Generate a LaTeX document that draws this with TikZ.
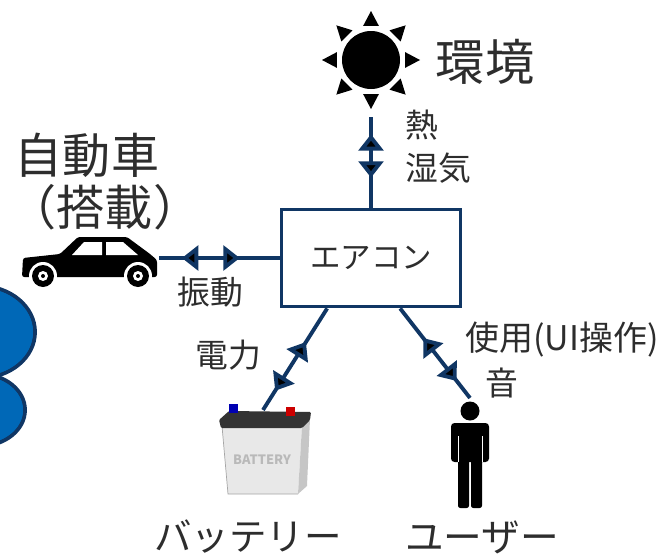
\documentclass[tikz,border=0pt]{standalone}
\usepackage{fontspec}
\setmainfont{Noto Sans CJK JP}
\usepackage{xcolor}
\usepackage{tikz}
\usetikzlibrary{arrows.meta,decorations.markings}

\definecolor{acnavy}{RGB}{16,54,100}
\definecolor{blobblue}{RGB}{0,104,183}
\definecolor{ink}{RGB}{45,45,45}

\tikzset{
  flowtip/.tip={Triangle[length=14pt,width=21pt,fill=black]},
  link/.style={acnavy, line width=3.3pt, postaction={decorate},
    decoration={markings,
      mark=at position 0.19 with {\arrowreversed{flowtip}},
      mark=at position 0.67 with {\arrow{flowtip}}}},
  biglabel/.style={text=ink, inner sep=0pt, font=\fontsize{42pt}{46pt}\selectfont},
  namelabel/.style={text=ink, inner sep=0pt, font=\fontsize{32pt}{36pt}\selectfont},
  flowlabel/.style={text=ink, inner sep=0pt, font=\fontsize{28pt}{32pt}\selectfont},
}

\begin{document}
\begin{tikzpicture}[x=0.03cm,y=-0.03cm]
                \useasboundingbox (0,0) rectangle (668,559);
                \clip (0,0) rectangle (668,559);

                % blue blob at the left edge
                \filldraw[fill=blobblue, draw=acnavy, line width=3.3pt] (-20,332) ellipse [x radius=55, y radius=46];
                \filldraw[fill=blobblue, draw=acnavy, line width=3.3pt] (-20,410) ellipse [x radius=45, y radius=36];
                \fill[blobblue] (-20,332) ellipse [x radius=53, y radius=44];
                \fill[blobblue] (-20,410) ellipse [x radius=43, y radius=34];

                % the air conditioner
                \node[draw=acnavy, line width=3.3pt, minimum width=5.37cm, minimum height=2.91cm,
                      text=ink, font=\fontsize{26pt}{30pt}\selectfont] (ac) at (371,258) {エアコン};

                % sun
                \fill (371,60) circle (29);
                \foreach \a in {0,45,...,315}
                    \fill[shift={(371,60)}] (\a:49) -- (\a+13:35) -- (\a-13:35) -- cycle;
                \node[biglabel] (env) at (485,62) {環境};
                \coordinate (sunfoot) at (371,117);

                % car
                \fill[rounded corners=2pt] (23,258) -- (60,254) -- (78,237) -- (127,237) -- (150,254)
                    -- (157,260) -- (157,277) -- (22,277) -- cycle;
                \fill[white] (72,255) -- (84,242) -- (102,242) -- (102,255) -- cycle;
                \fill[white] (106,242) -- (123,242) -- (138,255) -- (106,255) -- cycle;
                \foreach \cx in {43,138} {
                    \fill[white] (\cx,276) circle (14);
                    \fill[black] (\cx,276) circle (11);
                    \fill[white] (\cx,276) circle (5);
                    \fill[black] (\cx,276) circle (2);
                }
                \node[biglabel, font=\fontsize{41pt}{44pt}\selectfont] (carname) at (87,155) {自動車};
                \node[biglabel, font=\fontsize{41pt}{44pt}\selectfont] (carload) at (105,207) {（搭載）};
                \coordinate (carfront) at (159,258);

                % battery
                \fill[gray!18] (222,426) -- (302,426) -- (298,494) -- (228,494) -- cycle;
                \draw[gray!70, line width=0.6pt] (222,426) -- (228,494) -- (298,494);
                \fill[gray!45] (302,426) -- (310,419) -- (307,486) -- (298,494) -- cycle;
                \fill[black!80, rounded corners=1pt] (219,420) -- (229,411) -- (311,412) -- (310,420)
                    -- (302,428) -- (221,428) -- cycle;
                \fill[blue!70!black] (229,404) rectangle (238,413);
                \fill[red!80!black] (286,407) rectangle (295,416);
                \node[text=gray!55, font=\bfseries\fontsize{11pt}{12pt}\selectfont] (batlabel) at (262,460) {BATTERY};
                \node[namelabel] (batname) at (248,537) {バッテリー};
                \coordinate (batpole) at (263,410);

                % user
                \fill (470,411) circle (9.5);
                \fill[rounded corners=3pt] (451,423) rectangle (489,462);
                \fill[rounded corners=2pt] (458,450) rectangle (469,508);
                \fill[rounded corners=2pt] (471,450) rectangle (482,508);
                \draw[white, line width=0.5pt] (458,436) -- (458,462);
                \draw[white, line width=0.5pt] (482,436) -- (482,462);
                \node[namelabel, font=\fontsize{33pt}{36pt}\selectfont] (username) at (482,537) {ユーザー};
                \coordinate (userhead) at (470,398);

                % flows into and out of the box
                \draw[link] (sunfoot) -- (ac.north);
                \draw[link] (carfront) -- (ac.west);
                \draw[link] (batpole) -- (ac.229);
                \draw[link] (userhead) -- (ac.300);

                \node[flowlabel, anchor=west] (heat) at (405,125) {熱};
                \node[flowlabel, anchor=west] (humid) at (405,168) {湿気};
                \node[flowlabel] (vib) at (210,292) {振動};
                \node[flowlabel] (power) at (228,355) {電力};
                \node[flowlabel, font=\fontsize{29pt}{32pt}\selectfont] (use) at (562,340) {使用(UI操作)};
                \node[flowlabel] (sound) at (502,383) {音};
\end{tikzpicture}
\end{document}
